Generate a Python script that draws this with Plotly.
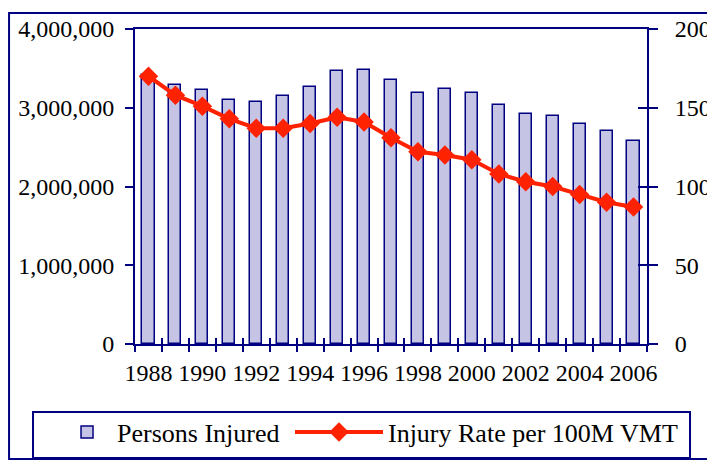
import plotly.graph_objects as go

years = list(range(1988, 2007))
persons_injured = [3416000, 3284000, 3231000, 3097000, 3070000, 3149000, 3266000,
                   3465000, 3483000, 3348000, 3192000, 3236000, 3189000, 3033000,
                   2926000, 2889000, 2788000, 2699000, 2575000]
injury_rate = [170, 158, 151, 143, 137, 137, 140, 144, 141, 131, 122, 120, 117,
               108, 103, 100, 95, 90, 87]
left_ticks = [0, 1000000, 2000000, 3000000, 4000000]
right_ticks = [0, 50, 100, 150, 200]
label_years = years[::2]

NAVY = "#000080"
FONT = "Liberation Serif"
boundaries = [y - 0.5 for y in years] + [years[-1] + 0.5]
xr = [years[0] - 0.5, years[-1] + 0.5]

fig = go.Figure()
fig.add_trace(go.Bar(
    x=years, y=persons_injured, name="Persons Injured", width=0.45,
    marker=dict(color="#C6C4E4", line=dict(color=NAVY, width=1.5)),
    legend="legend",
))
fig.add_trace(go.Scatter(
    x=years, y=injury_rate, name="Injury Rate per 100M VMT", yaxis="y2",
    mode="lines+markers",
    line=dict(color="#FF2200", width=4),
    marker=dict(symbol="diamond", size=15, color="#FF2200"),
    legend="legend2",
))
# helper trace so the overlay axes carrying inside ticks are drawn
fig.add_trace(go.Scatter(x=[None], y=[None], xaxis="x2", yaxis="y3",
                         showlegend=False, hoverinfo="skip"))

tickfont = dict(family=FONT, size=24, color="black")
legfont = dict(family=FONT, size=26, color="black")
fig.update_layout(
    width=707, height=456,
    margin=dict(l=127, r=68, t=21, b=120, autoexpand=False),
    paper_bgcolor="white", plot_bgcolor="white",
    font=dict(family=FONT, color="black"),
    bargap=0,
    xaxis=dict(
        range=xr, tickmode="array", tickvals=label_years,
        ticktext=[str(y) for y in label_years], ticks="",
        showline=True, linecolor=NAVY, linewidth=2, mirror=True,
        showgrid=False, zeroline=False, tickfont=tickfont,
        ticklabelstandoff=6, automargin=False,
        minor=dict(tickmode="array", tickvals=boundaries, ticks="outside",
                   ticklen=6, tickwidth=2, tickcolor=NAVY, showgrid=False),
    ),
    xaxis2=dict(
        range=xr, overlaying="x", anchor="y3", side="bottom",
        tickmode="array", tickvals=boundaries, ticks="inside", ticklen=6,
        tickwidth=2, tickcolor=NAVY, showticklabels=False, showline=False,
        showgrid=False, zeroline=False,
    ),
    yaxis=dict(
        range=[0, 4000000], tickmode="array", tickvals=left_ticks,
        tickformat=",", ticks="outside", ticklen=8, tickwidth=2, tickcolor=NAVY,
        showline=True, linecolor=NAVY, linewidth=2, showgrid=False,
        zeroline=False, tickfont=tickfont, ticklabelstandoff=6, automargin=False,
    ),
    yaxis2=dict(
        range=[0, 200], overlaying="y", side="right", tickmode="array",
        tickvals=right_ticks, ticks="outside", ticklen=9, tickwidth=2,
        tickcolor=NAVY, showline=True, linecolor=NAVY, linewidth=2,
        showgrid=False, zeroline=False, tickfont=tickfont, ticklabelstandoff=12,
        automargin=False,
    ),
    yaxis3=dict(
        range=[0, 200], overlaying="y", side="right", anchor="x",
        tickmode="array", tickvals=right_ticks, ticks="inside", ticklen=9,
        tickwidth=2, tickcolor=NAVY, showticklabels=False, showline=False,
        showgrid=False, zeroline=False,
    ),
    legend=dict(
        orientation="h", x=-0.1523, y=-0.205, xanchor="left", yanchor="top",
        borderwidth=0, bgcolor="rgba(0,0,0,0)", font=legfont, itemwidth=50,
    ),
    legend2=dict(
        orientation="h", x=0.3027, y=-0.205, xanchor="left", yanchor="top",
        borderwidth=0, bgcolor="rgba(0,0,0,0)", font=legfont, itemwidth=88,
    ),
    shapes=[
        dict(type="rect", xref="paper", yref="paper",
             x0=-0.246, x1=1.121, y0=-0.365, y1=1.0508,
             line=dict(color=NAVY, width=2), layer="below"),
        dict(type="rect", xref="paper", yref="paper",
             x0=-0.1992, x1=1.084, y0=-0.3619, y1=-0.2159,
             line=dict(color=NAVY, width=2), fillcolor="white", layer="below"),
    ],
)

fig.write_html("out.html")
